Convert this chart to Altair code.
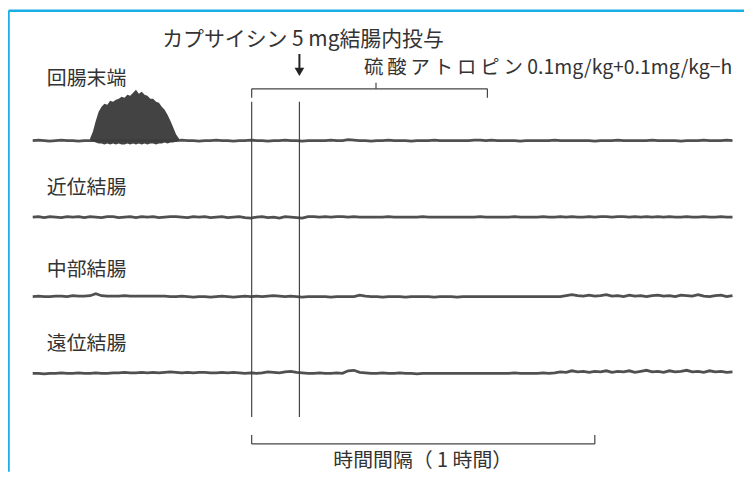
import altair as alt
import pandas as pd

# ---------------- data ----------------
# recordings sampled every minute from t = -38 min to t = 84 min (t = 0: start of atropine)
T_START = -38
T_STEP = 1
channel_labels = ["回腸末端", "近位結腸", "中部結腸", "遠位結腸"]

ileum = [0, 0.5, 0, -0.5, 0, 0.5, 0, 0, -0.5, 0,
         0, 0, 0, 0, 0, 0, 0, 0, 0, 0,
         0, 0, 0, 0, 0, 0, 0.5, 0, 0, -0.5,
         0, 0, 0.5, 0, 0, -0.5, 0, 0, 0.5, 0,
         0, -0.5, 0, 0, 0.5, 0, 0, -0.5, 0, 0,
         0, 0, 0.5, 0, 0, 1, 0.5, 0, 0, -0.5,
         0, 0, 0.5, 0, 0, 0, -0.5, 0, 0, 0,
         0.5, 0, 0, 0, 0, 0, 0, 0.5, 0.5, 0,
         0.5, 0, 0, 0, 0, -0.5, 0, 0, 0, 0,
         0, 0.5, 0, 0, 0, 0, 0, 0, -0.5, 0,
         0, 0, 0.5, 0, 0, 0, 0, 0, 0.5, 0,
         0, 0, 0, -0.5, 0, 0, 0, 0.5, 0, 0,
         0, 0.5, 0]
proximal = [0, 0.5, -0.5, 0.5, 0, -0.5, 0.5, 0, 0.5, -0.5,
            0.5, 0, -0.5, 0.5, 0.5, -0.5, 0, 0.5, -0.5, 0.5,
            0, 0.5, -0.5, 0, 0.5, 0.5, 0, -0.5, 0.5, 0,
            0.5, -0.5, 0, 0.5, -0.5, 0, 0.5, -0.5, -1, 0,
            0.5, -0.5, 0, -1, 0.5, 0, -0.5, -1, 0.5, 0.5,
            0, 0.5, 0, 0.5, 0.5, 0, 0.5, 0, 0, 0,
            0, 0, 0.5, 0, 0, 0, 0, 0, 0.5, 0,
            0, 0, 0, 0, 0, 0, 0, 0, 0.5, 0,
            0, 0, 0, 0, 0.5, 0, 0, 0, 0, 0.5,
            0, 0, 0.5, 0, 0.5, 0, 0, 0.5, 0, 0.5,
            0.5, 0, 0.5, 0.5, 0, 0.5, 0, 0.5, 0, 0.5,
            0, 0.5, 0, 0, 0.5, 0, 0, 0.5, 0, 0,
            0.5, 0, 0]
middle = [0, 0.5, 0, 0, 0.5, 0.5, 0, 1, 0.5, 0.5,
          1, 3, 1, 0.5, 0.5, 0.5, 1, 0.5, 0.5, 0.5,
          0.5, 0.5, 0.5, 0.5, 0, 0, 0.5, 0, -0.5, 0,
          0, -0.5, 0, 0.5, 0, -0.5, 0, 0.5, 0, 0.5,
          0, 0.5, 1, 0.5, 0, 0.5, 0, -0.5, 0, 0,
          0, 0, -0.5, 0, 0, 0, 0, 1.5, 0.5, 0,
          0, -0.5, 0, 0, 0, -0.5, 0, 0, 0, 0,
          -0.5, 0, 0, 0, -0.5, 0, 0, 0, 0, 0,
          0, 0, 0, 0, 0, 0, 0, 0, 0, 0,
          0, 0, 0, 1, 2, 1, 0.5, 1.5, 0.5, 1,
          2, 0.5, 1, 0, 1.5, 0.5, 1, 0, 1, 1.5,
          0.5, 1, 0, 1.5, 1, 0.5, 2, 0.5, 0, 1,
          1.5, 0, 1]
distal = [0, 0, -0.5, 0, 0, 0.5, 0, 0, 0.5, 0,
          0, 0.5, 0, 0, 0.5, 0.5, 1, 0.5, 0.5, 1,
          0.5, 1, 0.5, 1, 1.5, 1, 0.5, 1, 0.5, 1,
          1, 0.5, 0.5, 1, 0.5, 1, 0.5, 0, 0.5, 0,
          0.5, 1.5, 1, 0.5, 1.5, 2, 1, 0.5, 0, 0,
          0.5, 0, 0, 0.5, 0, 2.5, 3, 1, 0.5, 0,
          0, 0.5, 0, 0, 0.5, 0, 0, -0.5, 0, 0,
          0, 0, 0, 0, 0, 0, 0, 0, 0, 0,
          0, 0, 0, 0, 0.5, 0, 0, 0, 0, 0.5,
          0, 0.5, 1.5, 1, 2.5, 1.5, 2, 1, 2, 1.5,
          2.5, 1, 2, 1.5, 2.5, 1, 2, 3, 1.5, 2,
          1, 2.5, 1.5, 2, 3, 1.5, 2, 1, 2.5, 1.5,
          2, 1, 1.5]

# ileal burst (t = -28 ... -12.5 min, every 0.5 min): upper / lower envelope
BURST_START = -28.0
BURST_STEP = 0.5
burst_upper = [2, 9, 20, 29, 34, 37, 36, 40, 39, 41, 42, 44, 43, 46, 45, 48,
               51, 47, 49, 46, 45, 42, 42, 39, 38, 34, 31, 26, 20, 13, 6, 2]
burst_lower = [0, -1, -2, -3, -3, -4, -3, -4, -3, -4, -3, -4, -4, -3, -4, -3,
               -4, -3, -4, -3, -4, -3, -3, -4, -3, -3, -2, -3, -2, -2, -1, 0]

title_caps = "カプサイシン 5 mg結腸内投与"
title_atro = "硫\u2009酸\u2009ア\u2009ト\u2009ロ\u2009ピ\u2009ン 0.1mg/kg+0.1mg/kg−h"
time_label = "時間間隔（ 1 時間）"

# ---------------- layout ----------------
W, H = 740, 465
K = 5.767          # px per minute
X_ZERO = 252       # page x of t = 0


def tx(px):
    return (px - X_ZERO) / K


baselines = [140, 217, 297, 374]
label_y = [78, 188, 270, 345]
FONT = "Noto Sans CJK JP"
TXT = "#333333"
INK = "#3d3d3d"

xs = alt.Scale(domain=[tx(8), tx(8 + W)], nice=False, zero=False)
ys = alt.Scale(domain=[8, 8 + H], reverse=True, nice=False, zero=False)
X = alt.X("x:Q", scale=xs, axis=None)
Y = alt.Y("y:Q", scale=ys, axis=None)

rows = []
for name, base, vals in zip(channel_labels, baselines, [ileum, proximal, middle, distal]):
    for i, v in enumerate(vals):
        rows.append({"x": T_START + i * T_STEP, "y": base - v, "ch": name})
traces = pd.DataFrame(rows)

burst = pd.DataFrame({
    "x": [BURST_START + i * BURST_STEP for i in range(len(burst_upper))],
    "y": [baselines[0] - v for v in burst_upper],
    "y2": [baselines[0] - v for v in burst_lower],
})

frame = pd.DataFrame([
    {"x": tx(8.5), "x2": tx(8 + W), "y": 9.5, "y2": 9.5},
    {"x": tx(8.5), "x2": tx(8.5), "y": 9.5, "y2": 8 + H},
])

brackets = pd.DataFrame([
    # atropine bracket
    {"x": tx(253), "x2": tx(490), "y": 88, "y2": 88},
    {"x": tx(253), "x2": tx(253), "y": 88, "y2": 97},
    {"x": tx(490), "x2": tx(490), "y": 88, "y2": 97},
    {"x": tx(378), "x2": tx(378), "y": 82, "y2": 88},
    # event markers
    {"x": tx(253), "x2": tx(253), "y": 101, "y2": 418},
    {"x": tx(301), "x2": tx(301), "y": 101, "y2": 418},
    # 1 hour bracket
    {"x": tx(253), "x2": tx(598), "y": 445, "y2": 445},
    {"x": tx(253), "x2": tx(253), "y": 436, "y2": 445},
    {"x": tx(598), "x2": tx(598), "y": 436, "y2": 445},
])

arrow_shaft = pd.DataFrame([{"x": tx(301), "x2": tx(301), "y": 53, "y2": 70}])
arrow_head = pd.DataFrame([{"x": tx(301), "y": 71}])

left_caps = pd.DataFrame([{"x": tx(163), "y": 39, "t": title_caps}])
left_atro = pd.DataFrame([{"x": tx(366), "y": 67, "t": title_atro}])
left_labels = pd.DataFrame([{"x": tx(47), "y": yy, "t": lab} for lab, yy in zip(channel_labels, label_y)])
center_texts = pd.DataFrame([{"x": tx(425), "y": 462, "t": time_label}])

frame_layer = alt.Chart(frame).mark_rule(color="#1aaee6", strokeWidth=2.5).encode(
    x=X, x2="x2:Q", y=Y, y2="y2:Q")
bracket_layer = alt.Chart(brackets).mark_rule(color="#444444", strokeWidth=1.2).encode(
    x=X, x2="x2:Q", y=Y, y2="y2:Q")
shaft_layer = alt.Chart(arrow_shaft).mark_rule(color="#222222", strokeWidth=2).encode(
    x=X, x2="x2:Q", y=Y, y2="y2:Q")
head_layer = alt.Chart(arrow_head).mark_point(
    shape="triangle-down", filled=True, size=95, color="#222222", opacity=1).encode(x=X, y=Y)
trace_layer = alt.Chart(traces).mark_line(
    color=INK, strokeWidth=2.8, opacity=0.9, interpolate="linear").encode(
    x=X, y=Y, detail="ch:N")
burst_layer = alt.Chart(burst).mark_area(color="#333333", opacity=0.92).encode(
    x=X, y=Y, y2="y2:Q")


def text_layer(df, size, align="left"):
    return alt.Chart(df).mark_text(
        align=align, baseline="middle", font=FONT, fontSize=size, color=TXT).encode(
        x=X, y=Y, text="t:N")


chart = alt.layer(
    frame_layer, bracket_layer, burst_layer, trace_layer, shaft_layer, head_layer,
    text_layer(left_caps, 21), text_layer(left_atro, 19.5), text_layer(left_labels, 20),
    text_layer(center_texts, 20, "center")
).properties(
    width=W, height=H, padding=0, autosize="none"
).configure_view(stroke=None)

chart.save("out.html", embed_options={"renderer": "svg", "actions": False})
